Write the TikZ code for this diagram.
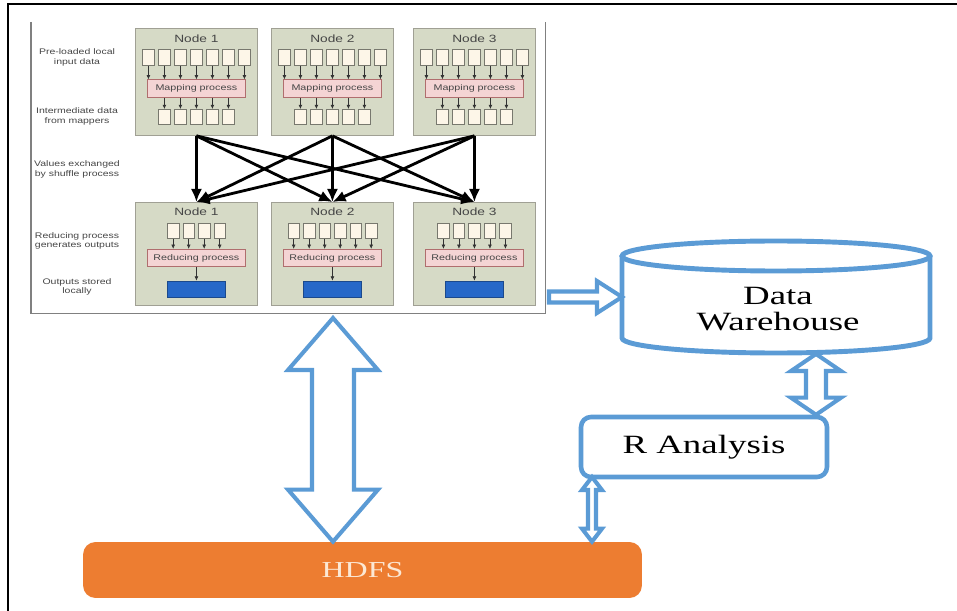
\documentclass[tikz,border=0pt]{standalone}
\usepackage{fontspec}
\setmainfont{Liberation Serif}
\newfontfamily\bigserif[FakeStretch=1.4]{Liberation Serif}
\newfontfamily\smallsans[FakeStretch=1.3]{Liberation Sans}
\usetikzlibrary{arrows.meta,calc,positioning}

\definecolor{panelfill}{RGB}{214,218,198}
\definecolor{paneldraw}{RGB}{160,160,148}
\definecolor{cellfill}{RGB}{253,246,232}
\definecolor{celldraw}{RGB}{120,120,110}
\definecolor{mapfill}{RGB}{244,212,212}
\definecolor{mapdraw}{RGB}{176,110,110}
\definecolor{outblue}{RGB}{38,104,200}
\definecolor{flowblue}{RGB}{91,155,213}
\definecolor{hdfsorange}{RGB}{237,125,49}
\definecolor{hdfstext}{RGB}{252,232,212}
\definecolor{labelgray}{RGB}{70,70,70}

\tikzset{
  shotbox/.style={minimum width=10.28cm, minimum height=5.82cm, anchor=north west, inner sep=0pt},
  shotline/.style={draw=gray, line width=0.8pt},
  panel/.style={draw=paneldraw, fill=panelfill, line width=0.5pt, minimum width=2.44cm, anchor=north west, inner sep=0pt},
  paneltitle/.style={font=\smallsans\fontsize{6}{6.5}\selectfont, text=labelgray, inner sep=0pt},
  rowlabel/.style={font=\smallsans\fontsize{4.6}{5.5}\selectfont, text=labelgray, align=center, inner sep=0pt},
  cell/.style={draw=celldraw, fill=cellfill, line width=0.3pt, minimum width=0.23cm, minimum height=0.31cm, inner sep=0pt},
  procbox/.style={draw=mapdraw, fill=mapfill, line width=0.4pt, minimum width=1.96cm, minimum height=0.35cm, inner sep=0pt, font=\smallsans\fontsize{4.7}{5}\selectfont, text=labelgray},
  outbox/.style={draw=outblue!70!black, fill=outblue, line width=0.4pt, minimum width=1.16cm, minimum height=0.32cm, inner sep=0pt},
  tinyarrow/.style={draw=black!80, line width=0.35pt, -{Latex[length=2.4pt,width=2.2pt]}},
  shuffle/.style={draw=black, line width=1.6pt, -{Latex[length=7.5pt,width=6.5pt]}},
  drum/.style={draw=flowblue, line width=2.8pt},
  blockarrow/.style={draw=flowblue, line width=2.3pt, fill=white, line join=miter},
  bigtext/.style={font=\bigserif\fontsize{15}{15}\selectfont, align=center, inner sep=0pt},
  rbox/.style={draw=flowblue, line width=2.6pt, fill=white, rounded corners=0.2cm, minimum width=4.92cm, minimum height=1.2cm, font=\bigserif\fontsize{15}{16}\selectfont},
  hdfsbar/.style={fill=hdfsorange, rounded corners=0.25cm, minimum width=11.18cm, minimum height=1.12cm, text=hdfstext, font=\bigserif\fontsize{13}{14}\selectfont}
}

% hollow double arrow, top point #1 to bottom point #2 (shaft half, head half, head length)
\newcommand{\vblockarrow}[5]{%
  \draw[blockarrow] let \p1=(#1), \p2=(#2) in
    (\x1,\y1) -- (\x1+#4,\y1-#5) -- (\x1+#3,\y1-#5) -- (\x1+#3,\y2+#5)
    -- (\x1+#4,\y2+#5) -- (\x1,\y2) -- (\x1-#4,\y2+#5) -- (\x1-#3,\y2+#5)
    -- (\x1-#3,\y1-#5) -- (\x1-#4,\y1-#5) -- cycle;}
% hollow arrow pointing right, tail #1 to tip #2
\newcommand{\hblockarrow}[5]{%
  \draw[blockarrow] let \p1=(#1), \p2=(#2) in
    (\x1,\y1+#3) -- (\x2-#5,\y1+#3) -- (\x2-#5,\y1+#4) -- (\x2,\y1)
    -- (\x2-#5,\y1-#4) -- (\x2-#5,\y1-#3) -- (\x1,\y1-#3) -- cycle;}

\begin{document}
\begin{tikzpicture}[x=0.02cm, y=-0.02cm]
  \useasboundingbox (0,0) rectangle (957,611);
  \draw[line width=1.2pt] (8,611) -- (8,4) -- (957,4);

  % map-reduce picture
  \node[shotbox] (shot) at (31,22) {};
  \draw[shotline] (shot.north west) -- (shot.south west) -- (shot.south east) -- (shot.north east);

  \node[rowlabel] (lab1) at (77,57.5) {Pre-loaded local\\input data};
  \node[rowlabel] (lab2) at (77,116.5) {Intermediate data\\from mappers};
  \node[rowlabel] (lab3) at (77,169.5) {Values exchanged\\by shuffle process};
  \node[rowlabel] (lab4) at (77,241) {Reducing process\\generates outputs};
  \node[rowlabel] (lab5) at (77,287) {Outputs stored\\locally};

  \foreach \i/\px in {1/135,2/271,3/413} {
    \node[panel, minimum height=2.14cm] (m\i) at (\px,28) {};
    \node[paneltitle] at ($(m\i.north)+(0,11)$) {Node \i};
    \node[procbox] (map\i) at ($(m\i.north)+(0,60.5)$) {Mapping process};
    \foreach \k in {1,...,7} {
      \node[cell] (in\i\k) at ($(m\i.north)+({(\k-4)*16},29.5)$) {};
      \draw[tinyarrow] (in\i\k.south) -- (in\i\k.south |- map\i.north);
    }
    \foreach \k in {1,...,5} {
      \node[cell] (mid\i\k) at ($(m\i.north)+({(\k-3)*16},89)$) {};
      \draw[tinyarrow] (mid\i\k.north |- map\i.south) -- (mid\i\k.north);
    }
  }

  \foreach \i/\px/\n in {1/135/4,2/271/6,3/413/5} {
    \node[panel, minimum height=2.06cm] (r\i) at (\px,202) {};
    \node[paneltitle] at ($(r\i.north)+(0,10)$) {Node \i};
    \node[procbox] (red\i) at ($(r\i.north)+(0,56)$) {Reducing process};
    \foreach \k in {1,...,\n} {
      \node[cell] (rin\i\k) at ($(r\i.north)+({(\k-(\n+1)/2)*15.5},29)$) {};
      \draw[tinyarrow] (rin\i\k.south) -- (rin\i\k.south |- red\i.north);
    }
    \node[outbox] (out\i) at ($(r\i.north)+(0,87)$) {};
    \draw[tinyarrow] (red\i.south) -- (out\i.north);
  }

  \foreach \i in {1,2,3}
    \foreach \j in {1,2,3}
      \draw[shuffle] (m\i.south) -- (r\j.north);

  % data warehouse
  \draw[drum] (622,256) -- (622,338) arc[start angle=180, end angle=0, x radius=154, y radius=15] -- (930,256);
  \draw[drum] (776,256) ellipse [x radius=154, y radius=15];
  \node[bigtext] (dw) at (778,309) {Data\\Warehouse};
  \coordinate (dwleft) at (622,297);
  \coordinate (dwbottom) at (816,354);
  \coordinate (shotout) at (549,297);

  \node[rbox] (ra) at (704,447) {R Analysis};
  \node[hdfsbar] (hdfs) at (362.5,570) {HDFS};
  \coordinate (bigtop) at (333,318);
  \coordinate (rbottom) at (592,477);

  \hblockarrow{shotout}{dwleft}{0.11cm}{0.32cm}{0.5cm}
  \vblockarrow{dwbottom}{dwbottom |- ra.north}{0.2cm}{0.5cm}{0.34cm}
  \vblockarrow{bigtop}{bigtop |- hdfs.north}{0.42cm}{0.9cm}{1.04cm}
  \vblockarrow{rbottom}{rbottom |- hdfs.north}{0.08cm}{0.2cm}{0.26cm}
\end{tikzpicture}
\end{document}
